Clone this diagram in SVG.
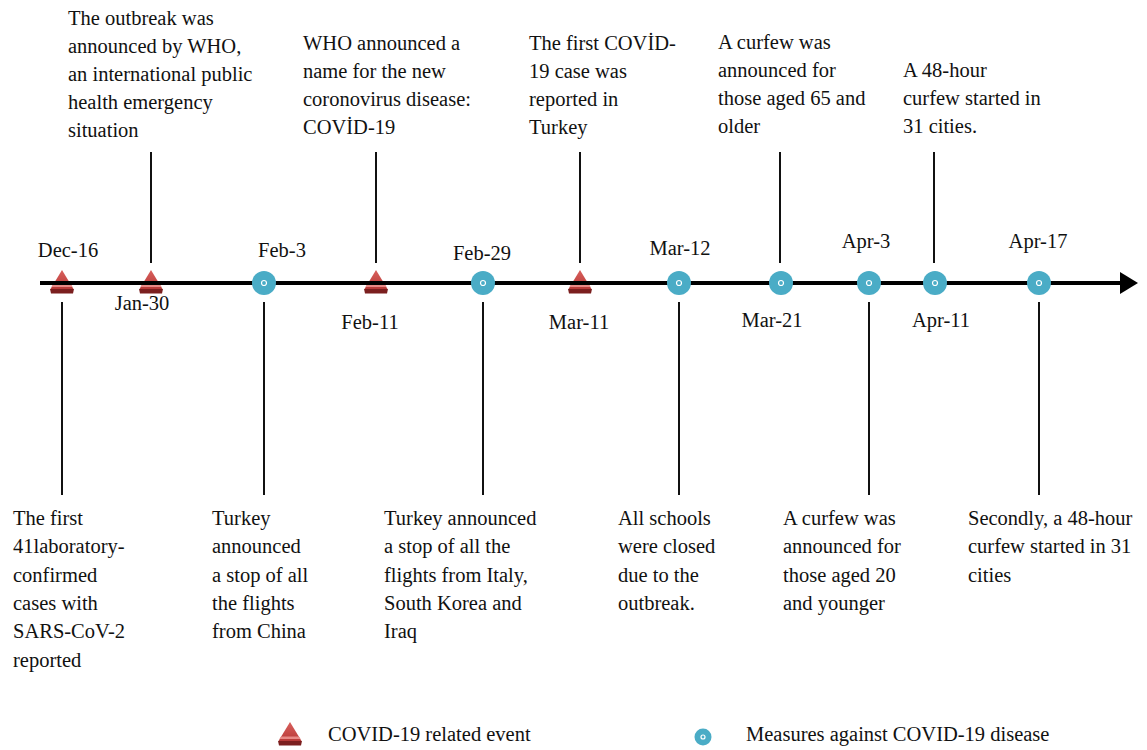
<svg xmlns="http://www.w3.org/2000/svg" width="1147" height="750" viewBox="0 0 1147 750" font-family="'Liberation Serif', 'Times New Roman', 'DejaVu Serif', serif">
<defs>
<style>
text{font-family:'Liberation Serif','Times New Roman','DejaVu Serif',serif;font-size:20.5px;fill:#111}
.d{text-anchor:middle}
.v{stroke:#111;stroke-width:2}
.axis{stroke:#000;stroke-width:4}
.c{fill:#4aacc6}
.cd{fill:none;stroke:#fff;stroke-width:1.2}
</style>
<linearGradient id="tg" x1="0" y1="0" x2="0" y2="1">
<stop offset="0" stop-color="#d9605c"/>
<stop offset="1" stop-color="#b83a38"/>
</linearGradient>
<g id="tri">
<polygon points="0,-13 11.5,6 -11.5,6" fill="url(#tg)"/>
<polygon points="-9,1.5 9,1.5 10.5,4 -10.5,4" fill="#e88a86"/>
<polygon points="-12,6 12,6 11,10.5 -11,10.5" fill="#7b1f1f"/>
</g>
<g id="circ">
<circle r="12" class="c"/>
<circle r="2.5" class="cd"/>
</g>
<marker id="ah" markerWidth="18" markerHeight="24" refX="0" refY="12" markerUnits="userSpaceOnUse" orient="auto">
<path d="M0,1 L18,12 L0,23 Z" fill="#000"/>
</marker>
</defs>

<g id="connectors">
<line class="v" x1="62" y1="302" x2="62" y2="495"/>
<line class="v" x1="151" y1="152" x2="151" y2="263"/>
<line class="v" x1="264" y1="302" x2="264" y2="495"/>
<line class="v" x1="376" y1="152" x2="376" y2="263"/>
<line class="v" x1="483" y1="302" x2="483" y2="495"/>
<line class="v" x1="580" y1="152" x2="580" y2="263"/>
<line class="v" x1="679" y1="302" x2="679" y2="495"/>
<line class="v" x1="780" y1="152" x2="780" y2="263"/>
<line class="v" x1="869" y1="302" x2="869" y2="495"/>
<line class="v" x1="934" y1="152" x2="934" y2="263"/>
<line class="v" x1="1039" y1="302" x2="1039" y2="495"/>
</g>

<g id="markers">
<use href="#tri" x="62" y="283"/>
<use href="#tri" x="151" y="283"/>
<use href="#tri" x="376" y="283"/>
<use href="#tri" x="580" y="283"/>
</g>

<g id="axis">
<line class="axis" x1="40" y1="283" x2="1120" y2="283" marker-end="url(#ah)"/>
</g>

<g id="circles">
<use href="#circ" x="264" y="283"/>
<use href="#circ" x="483" y="283"/>
<use href="#circ" x="679" y="283"/>
<use href="#circ" x="781" y="283"/>
<use href="#circ" x="869" y="283"/>
<use href="#circ" x="935" y="283"/>
<use href="#circ" x="1039" y="283"/>
</g>

<g id="dec16"><text class="d" x="68" y="257">Dec-16</text>
<text x="13" y="525">The first</text><text x="13" y="553">41laboratory-</text><text x="13" y="582">confirmed</text><text x="13" y="610">cases with</text><text x="13" y="638">SARS-CoV-2</text><text x="13" y="667">reported</text></g>

<g id="jan30"><text class="d" x="142" y="310">Jan-30</text>
<text x="68" y="25">The outbreak was</text><text x="68" y="53">announced by WHO,</text><text x="68" y="81">an international public</text><text x="68" y="109">health emergency</text><text x="68" y="137">situation</text></g>

<g id="feb3"><text class="d" x="282" y="257">Feb-3</text>
<text x="212" y="525">Turkey</text><text x="212" y="553">announced</text><text x="212" y="582">a stop of all</text><text x="212" y="610">the flights</text><text x="212" y="638">from China</text></g>

<g id="feb11"><text class="d" x="370" y="329">Feb-11</text>
<text x="303" y="50">WHO announced a</text><text x="303" y="78">name for the new</text><text x="303" y="106">coronovirus disease:</text><text x="303" y="134">COVİD-19</text></g>

<g id="feb29"><text class="d" x="482" y="260">Feb-29</text>
<text x="384" y="525">Turkey announced</text><text x="384" y="553">a stop of all the</text><text x="384" y="582">flights from Italy,</text><text x="384" y="610">South Korea and</text><text x="384" y="638">Iraq</text></g>

<g id="mar11"><text class="d" x="579" y="329">Mar-11</text>
<text x="529" y="50">The first COVİD-</text><text x="529" y="78">19 case was</text><text x="529" y="106">reported in</text><text x="529" y="134">Turkey</text></g>

<g id="mar12"><text class="d" x="680" y="255">Mar-12</text>
<text x="618" y="525">All schools</text><text x="618" y="553">were closed</text><text x="618" y="582">due to the</text><text x="618" y="610">outbreak.</text></g>

<g id="mar21"><text class="d" x="772" y="327">Mar-21</text>
<text x="718" y="49">A curfew was</text><text x="718" y="77">announced for</text><text x="718" y="105">those aged 65 and</text><text x="718" y="133">older</text></g>

<g id="apr3"><text class="d" x="866" y="248">Apr-3</text>
<text x="783" y="525">A curfew was</text><text x="783" y="553">announced for</text><text x="783" y="582">those aged 20</text><text x="783" y="610">and younger</text></g>

<g id="apr11"><text class="d" x="941" y="327">Apr-11</text>
<text x="903" y="77">A 48-hour</text><text x="903" y="105">curfew started in</text><text x="903" y="133">31 cities.</text></g>

<g id="apr17"><text class="d" x="1038" y="248">Apr-17</text>
<text x="968" y="525">Secondly, a 48-hour</text><text x="968" y="553">curfew started in 31</text><text x="968" y="582">cities</text></g>

<g id="legend">
<use href="#tri" x="290" y="735"/>
<text x="328" y="741">COVID-19 related event</text>
<circle cx="703" cy="737" r="8.5" class="c"/>
<circle cx="703" cy="737" r="2" class="cd"/>
<text x="746" y="741">Measures against COVID-19 disease</text>
</g>
</svg>
